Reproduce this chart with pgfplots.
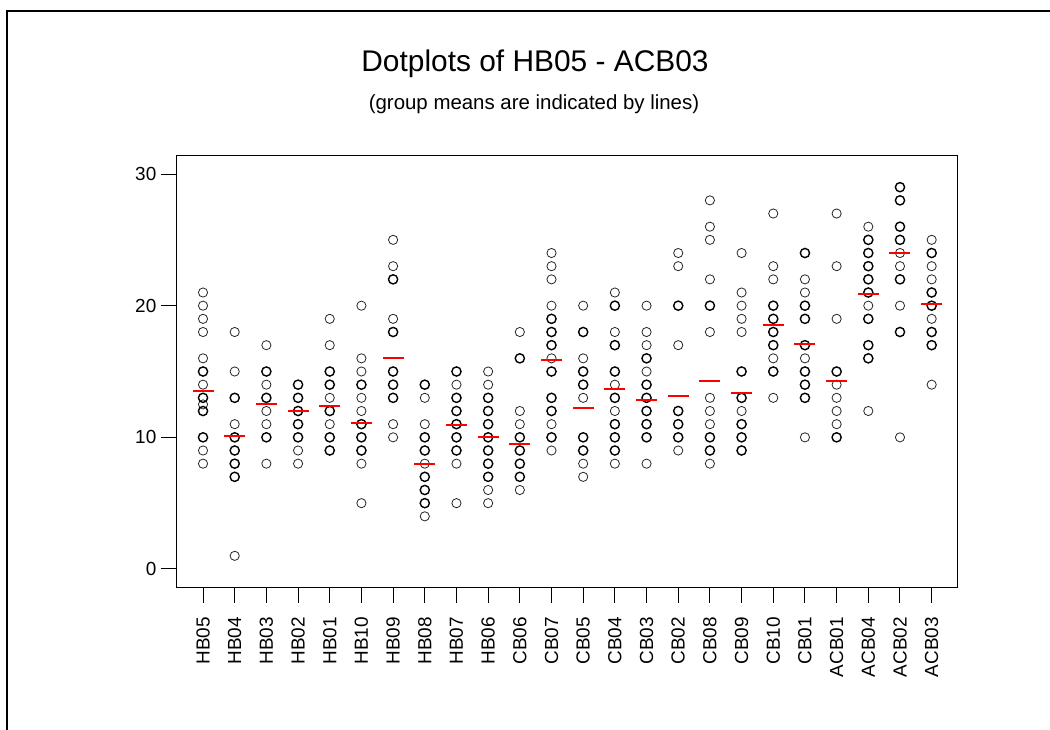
\documentclass[border=0pt]{standalone}
\usepackage{pgfplots}
\pgfplotsset{compat=1.18}
\usepackage{fontspec}
\setmainfont{Liberation Sans}
\begin{document}
\begin{tikzpicture}[x=1bp,y=1bp]
\useasboundingbox (0,0) rectangle (1050,730);
\draw[line width=2bp] (7,0) -- (7,719) -- (1050,719);
\node[anchor=base] at (535,658) {\fontsize{30}{34}\selectfont Dotplots of HB05 - ACB03};
\node[anchor=base] at (534,620) {\fontsize{20.5}{24}\selectfont (group means are indicated by lines)};
\begin{axis}[
  at={(176bp,142bp)}, anchor=south west,
  width=781bp, height=432bp, scale only axis,
  xmin=-0.853, xmax=23.8, ymin=-1.443, ymax=31.37,
  xtick={0,...,23},
  xticklabels={HB05,HB04,HB03,HB02,HB01,HB10,HB09,HB08,HB07,HB06,CB06,CB07,CB05,CB04,CB03,CB02,CB08,CB09,CB10,CB01,ACB01,ACB04,ACB02,ACB03},
  ytick={0,10,20,30},
  tick align=outside, major tick length=15bp,
  xtick pos=bottom, ytick pos=left,
  axis line style={line width=1bp},
  every tick/.style={line width=1bp, black},
  /pgf/number format/assume math mode=true,
  xticklabel shift=12bp,
  x tick label style={rotate=90, anchor=east, font=\fontsize{19}{22}\selectfont, inner sep=2bp},
  y tick label style={font=\fontsize{19}{22}\selectfont, inner sep=4.5bp},
]
\addplot[only marks, mark=o, mark size=4.6bp, mark options={line width=0.8bp, black!85}] coordinates {
(0,21)(0,20)(0,19)(0,18)(0,16)(0,14)(0,12.5)(0,9)(0,8)
(1,18)(1,15)(1,11)(1,1)
(2,17)(2,14)(2,12)(2,11)(2,8)
(3,9)(3,8)
(4,19)(4,17)(4,13)(4,11)
(5,20)(5,16)(5,15)(5,13)(5,12)(5,8)(5,5)
(6,25)(6,23)(6,19)(6,11)(6,10)
(7,13)(7,11)(7,8)(7,4)
(8,14)(8,8)(8,5)
(9,15)(9,14)(9,6)(9,5)
(10,18)(10,12)(10,11)(10,6)
(11,24)(11,23)(11,22)(11,20)(11,16)(11,11)(11,9)
(12,20)(12,16)(12,13)(12,8)(12,7)
(13,21)(13,18)(13,14)(13,12)(13,8)
(14,20)(14,18)(14,17)(14,15)(14,8)
(15,24)(15,23)(15,17)(15,9)
(16,28)(16,26)(16,25)(16,22)(16,18)(16,13)(16,12)(16,11)(16,8)
(17,24)(17,21)(17,20)(17,19)(17,18)(17,12)
(18,27)(18,23)(18,22)(18,16)(18,13)
(19,22)(19,21)(19,16)(19,10)
(20,27)(20,23)(20,19)(20,14)(20,13)(20,12)(20,11)
(21,26)(21,20)(21,12)
(22,24)(22,23)(22,20)(22,10)
(23,25)(23,23)(23,22)(23,19)(23,14)
};
\addplot[only marks, mark=o, mark size=4.6bp, mark options={line width=1.4bp, black}] coordinates {
(0,15)(0,13)(0,12)(0,10)
(1,13)(1,10)(1,9)(1,8)(1,7)
(2,15)(2,13)(2,10)
(3,14)(3,13)(3,12)(3,11)(3,10)
(4,15)(4,14)(4,12)(4,10)(4,9)
(5,14)(5,11)(5,10)(5,9)
(6,22)(6,18)(6,15)(6,14)(6,13)
(7,14)(7,10)(7,9)(7,7)(7,6)(7,5)
(8,15)(8,13)(8,12)(8,11)(8,10)(8,9)
(9,13)(9,12)(9,11)(9,10)(9,9)(9,8)(9,7)
(10,16)(10,10)(10,9)(10,8)(10,7)
(11,19)(11,18)(11,17)(11,15)(11,13)(11,12)(11,10)
(12,18)(12,15)(12,14)(12,10)(12,9)
(13,20)(13,17)(13,15)(13,13)(13,11)(13,10)(13,9)
(14,16)(14,14)(14,13)(14,12)(14,11)(14,10)
(15,20)(15,12)(15,11)(15,10)
(16,20)(16,10)(16,9)
(17,15)(17,13)(17,11)(17,10)(17,9)
(18,20)(18,19)(18,18)(18,17)(18,15)
(19,24)(19,20)(19,19)(19,17)(19,15)(19,14)(19,13)
(20,15)(20,10)
(21,25)(21,24)(21,23)(21,22)(21,21)(21,19)(21,17)(21,16)
(22,29)(22,28)(22,26)(22,25)(22,22)(22,18)
(23,24)(23,21)(23,20)(23,18)(23,17)
};
\addplot[only marks, mark=-, mark size=10.5bp, mark options={line width=2bp, red}] coordinates {
(0,13.5)(1,10.1)(2,12.5)(3,12.0)(4,12.4)(5,11.1)(6,16.0)(7,8.0)(8,10.9)(9,10.0)
(10,9.5)(11,15.85)(12,12.2)(13,13.7)(14,12.85)(15,13.15)(16,14.3)(17,13.4)(18,18.5)(19,17.1)
(20,14.3)(21,20.85)(22,24.0)(23,20.1)
};
\end{axis}
\end{tikzpicture}
\end{document}
